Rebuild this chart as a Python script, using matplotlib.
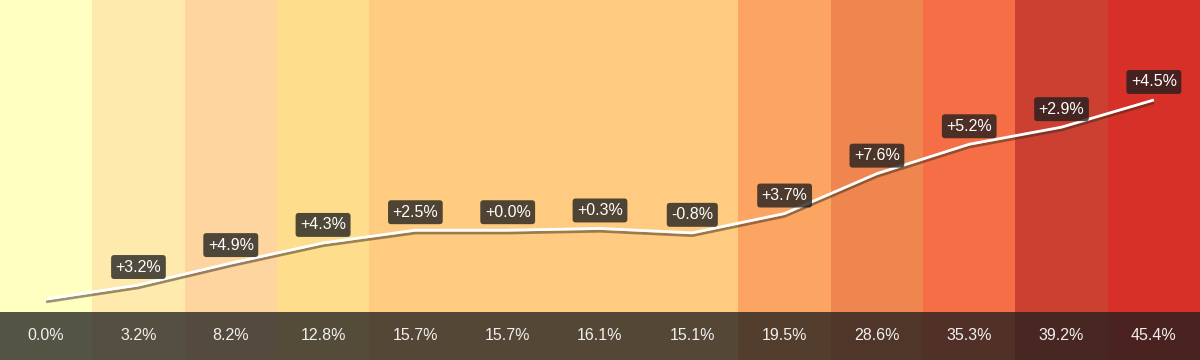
import numpy as np
import matplotlib.pyplot as plt
import matplotlib.patheffects as pe

plt.rcParams['font.family'] = ['Liberation Sans', 'DejaVu Sans']

# cumulative values and step changes
cumul = [0.0, 3.2, 8.2, 12.8, 15.7, 15.7, 16.1, 15.1, 19.5, 28.6, 35.3, 39.2, 45.4]
changes = ["+3.2%", "+4.9%", "+4.3%", "+2.5%", "+0.0%", "+0.3%", "-0.8%",
           "+3.7%", "+7.6%", "+5.2%", "+2.9%", "+4.5%"]
band_colors = ["#FFFFC2", "#FEEAAC", "#FED59F", "#FEDE8C", "#FECB80", "#FECB80",
               "#FECB80", "#FECB80", "#FCA562", "#EF854F", "#F56E46", "#CC4032", "#D73028"]

n = len(cumul)
x = np.arange(n) + 0.5

fig = plt.figure(figsize=(12, 3.6), dpi=100)
ax = fig.add_axes([0, 0, 1, 1])
ax.set_xlim(0, n)
ax.set_ylim(-13.9, 68.2)
ax.axis('off')

# background bands
for i, c in enumerate(band_colors):
    ax.axvspan(i, i + 1, color=c, lw=0, zorder=0)

# bottom strip
strip_top = -2.95
ax.axhspan(-13.9, strip_top, color='#1e1e1e', alpha=0.76, lw=0, zorder=1)
for xi, v in zip(x, cumul):
    ax.text(xi, (strip_top - 13.9) / 2, f"{v:.1f}%", ha='center', va='center',
            color='#f0f0f0', fontsize=11.5, zorder=3)

# line with shadow
ax.plot(x, cumul, color='white', lw=2, zorder=4, solid_capstyle='butt',
        path_effects=[pe.SimpleLineShadow(offset=(0, -2), shadow_color='#3a2a1a', alpha=0.5),
                      pe.Normal()])

# change labels
for xi, v, lab in zip(x[1:], cumul[1:], changes):
    ax.annotate(lab, (xi, v), xytext=(0, 18), textcoords='offset pixels',
                ha='center', va='center', color='white', fontsize=11.5, zorder=5,
                bbox=dict(boxstyle='round,pad=0.28,rounding_size=0.2',
                          fc='#1e1e1e', ec='none', alpha=0.78))

fig.savefig('out.png', dpi=100)
